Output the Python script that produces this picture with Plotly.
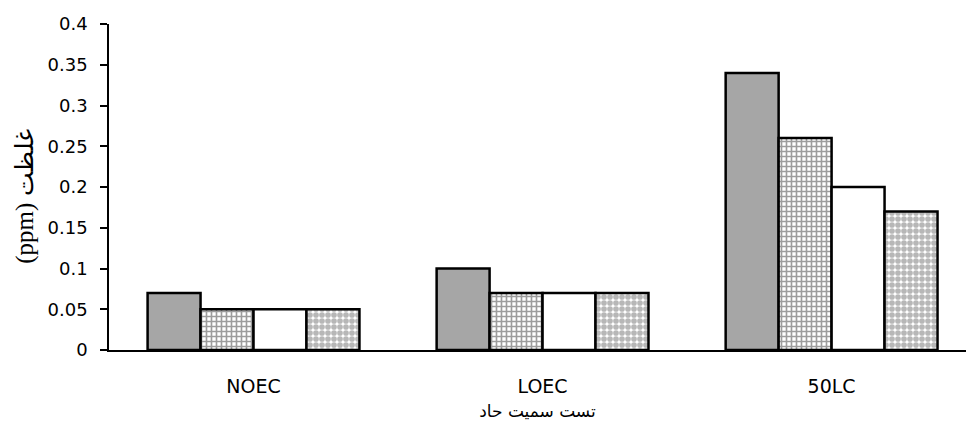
import plotly.graph_objects as go

categories = ["NOEC", "LOEC", "50LC"]
series_a = [0.07, 0.10, 0.34]
series_b = [0.05, 0.07, 0.26]
series_c = [0.05, 0.07, 0.20]
series_d = [0.05, 0.07, 0.17]
y_ticks = [0, 0.05, 0.1, 0.15, 0.2, 0.25, 0.3, 0.35, 0.4]
y_tick_labels = ["0", "0.05", "0.1", "0.15", "0.2", "0.25", "0.3", "0.35", "0.4"]

line = dict(color="black", width=2.5)
fig = go.Figure()
fig.add_bar(x=categories, y=series_a, marker=dict(color="#a6a6a6", line=line))
fig.add_bar(x=categories, y=series_b, marker=dict(color="white", line=line,
            pattern=dict(shape="+", fgcolor="#3a3a3a", bgcolor="white", size=5, solidity=0.55)))
fig.add_bar(x=categories, y=series_c, marker=dict(color="white", line=line))
fig.add_bar(x=categories, y=series_d, marker=dict(color="white", line=line,
            pattern=dict(shape=".", fgcolor="#707070", bgcolor="white", size=6, solidity=0.7)))

fig.update_layout(
    width=966, height=432,
    margin=dict(l=109, r=0, t=24, b=82, autoexpand=False),
    paper_bgcolor="white", plot_bgcolor="white",
    barmode="group", bargap=0.267, bargroupgap=0,
    showlegend=False,
    font=dict(family="DejaVu Sans, Arial", size=18, color="black"),
    annotations=[dict(
        text="(ppm) غلظت", textangle=-90, showarrow=False,
        xref="paper", yref="paper", x=-0.098, y=0.47,
        xanchor="center", yanchor="middle",
        font=dict(family="Liberation Serif", size=25, color="black"),
    )],
)
fig.update_xaxes(
    type="category", range=[-0.5, 2.465], automargin=False,
    showline=True, linecolor="black", linewidth=1.5,
    ticks="", showgrid=False, ticklabelstandoff=18,
    tickfont=dict(size=19),
    title=dict(text="تست سمیت حاد", font=dict(family="DejaVu Sans", size=17), standoff=10),
)
fig.update_yaxes(
    range=[0, 0.4], tickvals=y_ticks, ticktext=y_tick_labels, automargin=False,
    showline=True, linecolor="black", linewidth=1.5,
    ticks="outside", ticklen=7, tickcolor="black", tickwidth=1.5,
    showgrid=False, zeroline=False, ticklabelstandoff=9,
    tickfont=dict(size=18),
)

fig.write_html("out.html", config={"displayModeBar": False},
               post_script="document.body.style.margin='0';")
